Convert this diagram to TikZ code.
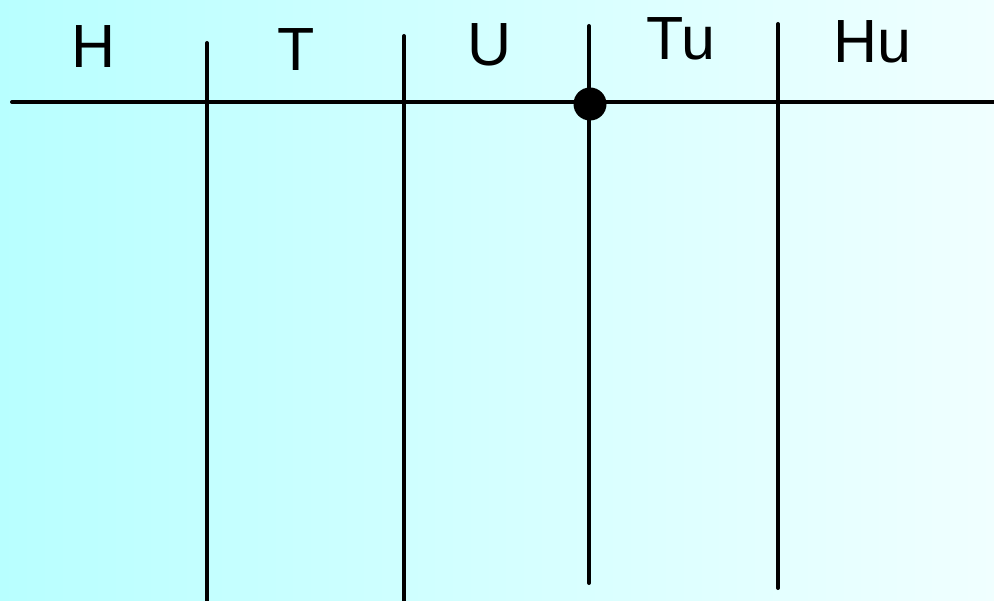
\documentclass[tikz,border=0pt]{standalone}
\usepackage{fontspec}
\setmainfont{Liberation Sans}
\begin{document}
\begin{tikzpicture}[x=1pt,y=-1pt,
  rule/.style={line width=4pt, line cap=round},
  place/.style={font=\fontsize{61}{61}\selectfont, inner sep=0pt, anchor=base}]
\definecolor{bgleft}{RGB}{184,255,255}
\definecolor{bgright}{RGB}{240,255,255}
\shade[left color=bgleft, right color=bgright] (0,0) rectangle (994,601);
\useasboundingbox (0,0) rectangle (994,601);
% axis line
\coordinate (axL) at (12,102);
\coordinate (axR) at (1000,102);
\draw[rule] (axL) -- (axR);
% place-value separators
\coordinate (s1t) at (207,43);  \coordinate (s1b) at (207,610);
\coordinate (s2t) at (404,36);  \coordinate (s2b) at (404,610);
\coordinate (s3t) at (589,26);  \coordinate (s3b) at (589,583);
\coordinate (s4t) at (778,24);  \coordinate (s4b) at (778,588);
\draw[rule] (s1t) -- (s1b);
\draw[rule] (s2t) -- (s2b);
\draw[rule] (s3t) -- (s3b);
\draw[rule] (s4t) -- (s4b);
% decimal point
\fill (590,104) circle (16.5);
% column headings
\node[place] (h)  at (94,68)  {H};
\node[place] (t)  at (296,71) {T};
\node[place] (u)  at (490,66) {U};
\node[place] (tu) at (681,60) {Tu};
\node[place] (hu) at (872,63) {Hu};
\end{tikzpicture}
\end{document}
